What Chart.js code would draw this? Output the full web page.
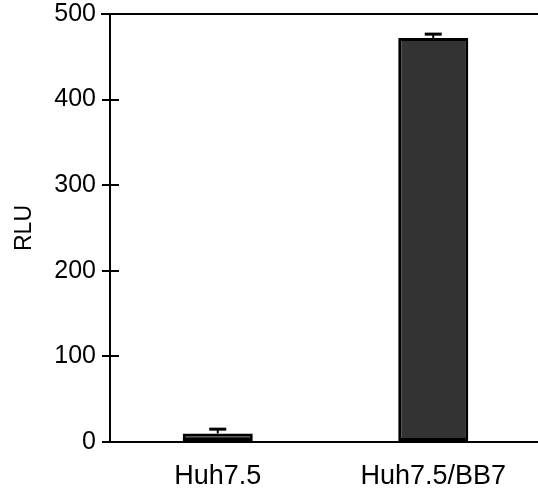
<!DOCTYPE html>
<html>
<head>
<meta charset="utf-8">
<script src="https://cdn.jsdelivr.net/npm/chart.js@4/dist/chart.umd.min.js"></script>
<style>
html,body{margin:0;padding:0;background:#fff;overflow:hidden;}
#wrap{width:542px;height:491px;position:relative;}
</style>
</head>
<body>
<div id="wrap"><canvas id="c" width="542" height="491"></canvas></div>
<script>
const categories = ["Huh7.5", "Huh7.5/BB7"];
const values = [10, 472];
const errorsUp = [5, 4.5];
const yTicks = [0, 100, 200, 300, 400, 500];
const yTitle = "RLU";

const FONT = "'Liberation Sans', Arial, sans-serif";

const decor = {
  id: 'decor',
  afterDraw(chart) {
    const ctx = chart.ctx, ca = chart.chartArea;
    const y = chart.scales.y;
    ctx.save();
    ctx.strokeStyle = '#000';
    ctx.lineWidth = 2;
    yTicks.forEach(v => {
      const py = Math.round(y.getPixelForValue(v));
      ctx.beginPath();
      ctx.moveTo(ca.left, py);
      ctx.lineTo(ca.left + 9, py);
      ctx.stroke();
    });
    ctx.beginPath();
    ctx.moveTo(ca.left - 9, ca.top);
    ctx.lineTo(ca.right + 2, ca.top);
    ctx.stroke();
    const meta = chart.getDatasetMeta(0);
    meta.data.forEach((bar, i) => {
      const top = y.getPixelForValue(values[i] + errorsUp[i]);
      const base = y.getPixelForValue(values[i]);
      ctx.lineWidth = 2;
      ctx.beginPath();
      ctx.moveTo(bar.x, base);
      ctx.lineTo(bar.x, top);
      ctx.stroke();
      ctx.lineWidth = 3;
      ctx.beginPath();
      ctx.moveTo(bar.x - 8.5, top);
      ctx.lineTo(bar.x + 8.5, top);
      ctx.stroke();
    });
    ctx.restore();
  }
};

new Chart(document.getElementById('c'), {
  type: 'bar',
  data: {
    labels: categories,
    datasets: [{
      data: values,
      backgroundColor: '#333333',
      borderColor: '#000000',
      borderWidth: 3,
      borderSkipped: false,
      barPercentage: 0.325,
      categoryPercentage: 1
    }]
  },
  options: {
    responsive: false,
    animation: false,
    events: [],
    layout: { padding: { top: 14, right: 1, left: 0, bottom: 0 } },
    plugins: { legend: { display: false }, tooltip: { enabled: false } },
    scales: {
      x: {
        afterFit(s) { s.height = 49; s.paddingLeft = 0; s.paddingRight = 0; },
        grid: { display: false, drawTicks: false },
        border: { display: true, color: '#000', width: 2 },
        ticks: { color: '#000', font: { family: FONT, size: 27 }, padding: 18 }
      },
      y: {
        min: 0, max: 500,
        afterFit(s) { s.width = 110; s.paddingTop = 0; s.paddingBottom = 0; },
        afterBuildTicks(s) { s.ticks = yTicks.map(v => ({ value: v })); },
        grid: { display: true, drawOnChartArea: false, drawTicks: true, tickLength: 8, color: '#000', lineWidth: 2 },
        border: { display: true, color: '#000', width: 2 },
        ticks: { color: '#000', font: { family: FONT, size: 25 }, padding: 6 },
        title: { display: true, text: yTitle, color: '#000', font: { family: FONT, size: 23 }, padding: { top: 11, bottom: 0 } }
      }
    }
  },
  plugins: [decor]
});
</script>
</body>
</html>
